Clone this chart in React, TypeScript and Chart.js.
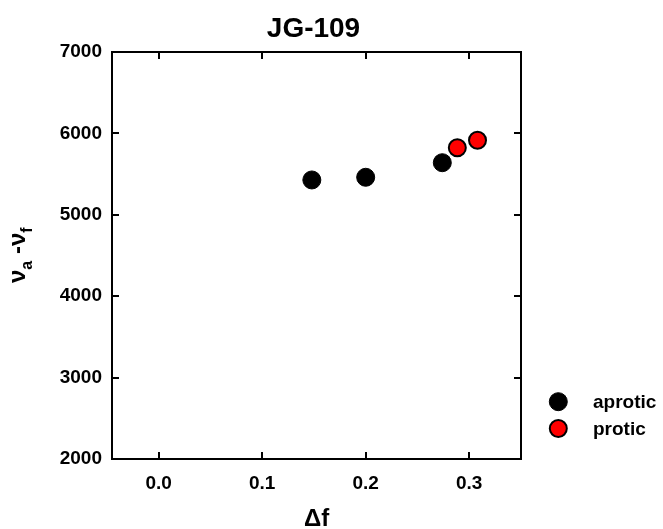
import React, { useEffect, useRef } from "react";
import { Chart, registerables } from "chart.js";

Chart.register(...registerables);

// ---- data ----
const seriesNames = ["aprotic", "protic"];
const aproticX = [0.148, 0.2, 0.274];
const aproticY = [5428, 5461, 5640];
const proticX = [0.2885, 0.308];
const proticY = [5824, 5915];
const xTicks = [0.0, 0.1, 0.2, 0.3];
const yTicks = [2000, 3000, 4000, 5000, 6000, 7000];
const chartTitle = "JG-109";
const xTitle = "Δf";

const FONT = "'Liberation Sans', Arial, Helvetica, sans-serif";

export default function App() {
  const ref = useRef<HTMLCanvasElement>(null);

  useEffect(() => {
    const canvas = ref.current!;
    const decor = {
      id: "decor",
      beforeDatasetsDraw(chart: any) {
        const { ctx, chartArea: a, scales } = chart;
        ctx.save();
        ctx.strokeStyle = "#000";
        ctx.lineWidth = 2;
        ctx.strokeRect(a.left, a.top, a.right - a.left, a.bottom - a.top);
        const tl = 7;
        ctx.beginPath();
        xTicks.forEach((v) => {
          const x = Math.round(scales.x.getPixelForValue(v));
          ctx.moveTo(x, a.bottom);
          ctx.lineTo(x, a.bottom - tl);
          ctx.moveTo(x, a.top);
          ctx.lineTo(x, a.top + tl);
        });
        yTicks.forEach((v) => {
          const y = Math.round(scales.y.getPixelForValue(v));
          ctx.moveTo(a.left, y);
          ctx.lineTo(a.left + tl, y);
          ctx.moveTo(a.right, y);
          ctx.lineTo(a.right - tl, y);
        });
        ctx.stroke();
        ctx.restore();
      },
      afterDraw(chart: any) {
        const { ctx, chartArea: a } = chart;
        ctx.save();
        ctx.fillStyle = "#000";
        // title
        ctx.font = `bold 28px ${FONT}`;
        ctx.textAlign = "center";
        ctx.textBaseline = "alphabetic";
        ctx.fillText(chartTitle, 313.5, 37);
        // x title
        ctx.font = `bold 24px ${FONT}`;
        ctx.fillText(xTitle, (a.left + a.right) / 2, 526);
        // y title with subscripts
        ctx.save();
        ctx.translate(25, 283);
        ctx.rotate(-Math.PI / 2);
        ctx.textAlign = "left";
        const big = `bold 24px ${FONT}`;
        const small = `bold 16px ${FONT}`;
        const parts: [string, string, number][] = [
          ["ν", big, 0],
          ["a", small, 7],
          [" -", big, 0],
          ["ν", big, 0],
          ["f", small, 7],
        ];
        let px = 0;
        parts.forEach(([t, f, dy]) => {
          ctx.font = f;
          ctx.fillText(t, px, dy);
          px += ctx.measureText(t).width;
        });
        ctx.restore();
        // legend
        const legendY = [401.7, 428.5];
        chart.data.datasets.forEach((ds: any, i: number) => {
          const cy = legendY[i];
          ctx.beginPath();
          ctx.arc(558.3, cy, ds.pointRadius, 0, Math.PI * 2);
          ctx.fillStyle = ds.backgroundColor;
          ctx.fill();
          ctx.lineWidth = ds.borderWidth;
          ctx.strokeStyle = ds.borderColor;
          ctx.stroke();
          ctx.fillStyle = "#000";
          ctx.font = `bold 19px ${FONT}`;
          ctx.textAlign = "left";
          ctx.textBaseline = "middle";
          ctx.fillText(ds.label, 593, cy + 1);
        });
        ctx.restore();
      },
    };

    const tickFont = { size: 19, weight: "bold" as const, family: FONT };

    const chart = new Chart(canvas, {
      type: "scatter",
      data: {
        datasets: [
          {
            label: seriesNames[0],
            data: aproticX.map((x, i) => ({ x, y: aproticY[i] })),
            backgroundColor: "#000000",
            borderColor: "#000000",
            borderWidth: 1,
            pointRadius: 9,
            pointHoverRadius: 9,
            order: 1,
          },
          {
            label: seriesNames[1],
            data: proticX.map((x, i) => ({ x, y: proticY[i] })),
            backgroundColor: "#ff0000",
            borderColor: "#000000",
            borderWidth: 2,
            pointRadius: 8.5,
            pointHoverRadius: 8.5,
            order: 0,
          },
        ],
      },
      options: {
        responsive: false,
        animation: false,
        devicePixelRatio: 1,
        events: [],
        layout: { padding: { top: 52, right: 142, left: 0, bottom: 0 } },
        plugins: {
          legend: { display: false },
          title: { display: false },
          tooltip: { enabled: false },
        },
        scales: {
          x: {
            type: "linear",
            min: -0.045,
            max: 0.35,
            grid: { display: false, drawTicks: false },
            border: { display: false },
            afterBuildTicks: (s: any) => {
              s.ticks = xTicks.map((v) => ({ value: v }));
            },
            afterFit: (s: any) => {
              s.height = 70;
            },
            ticks: {
              color: "#000",
              font: tickFont,
              padding: 13,
              maxRotation: 0,
              autoSkip: false,
              callback: (v: any) => Number(v).toFixed(1),
            },
          },
          y: {
            type: "linear",
            min: 2000,
            max: 7000,
            grid: { display: false, drawTicks: false },
            border: { display: false },
            afterBuildTicks: (s: any) => {
              s.ticks = yTicks.map((v) => ({ value: v }));
            },
            afterFit: (s: any) => {
              s.width = 112;
            },
            ticks: {
              color: "#000",
              font: tickFont,
              padding: 10,
              autoSkip: false,
              callback: (v: any) => String(v),
            },
          },
        },
      },
      plugins: [decor],
    });
    return () => chart.destroy();
  }, []);

  return (
    <canvas
      ref={ref}
      width={663}
      height={529}
      style={{ display: "block", position: "fixed", left: 0, top: 0, width: 663, height: 529 }}
    />
  );
}
